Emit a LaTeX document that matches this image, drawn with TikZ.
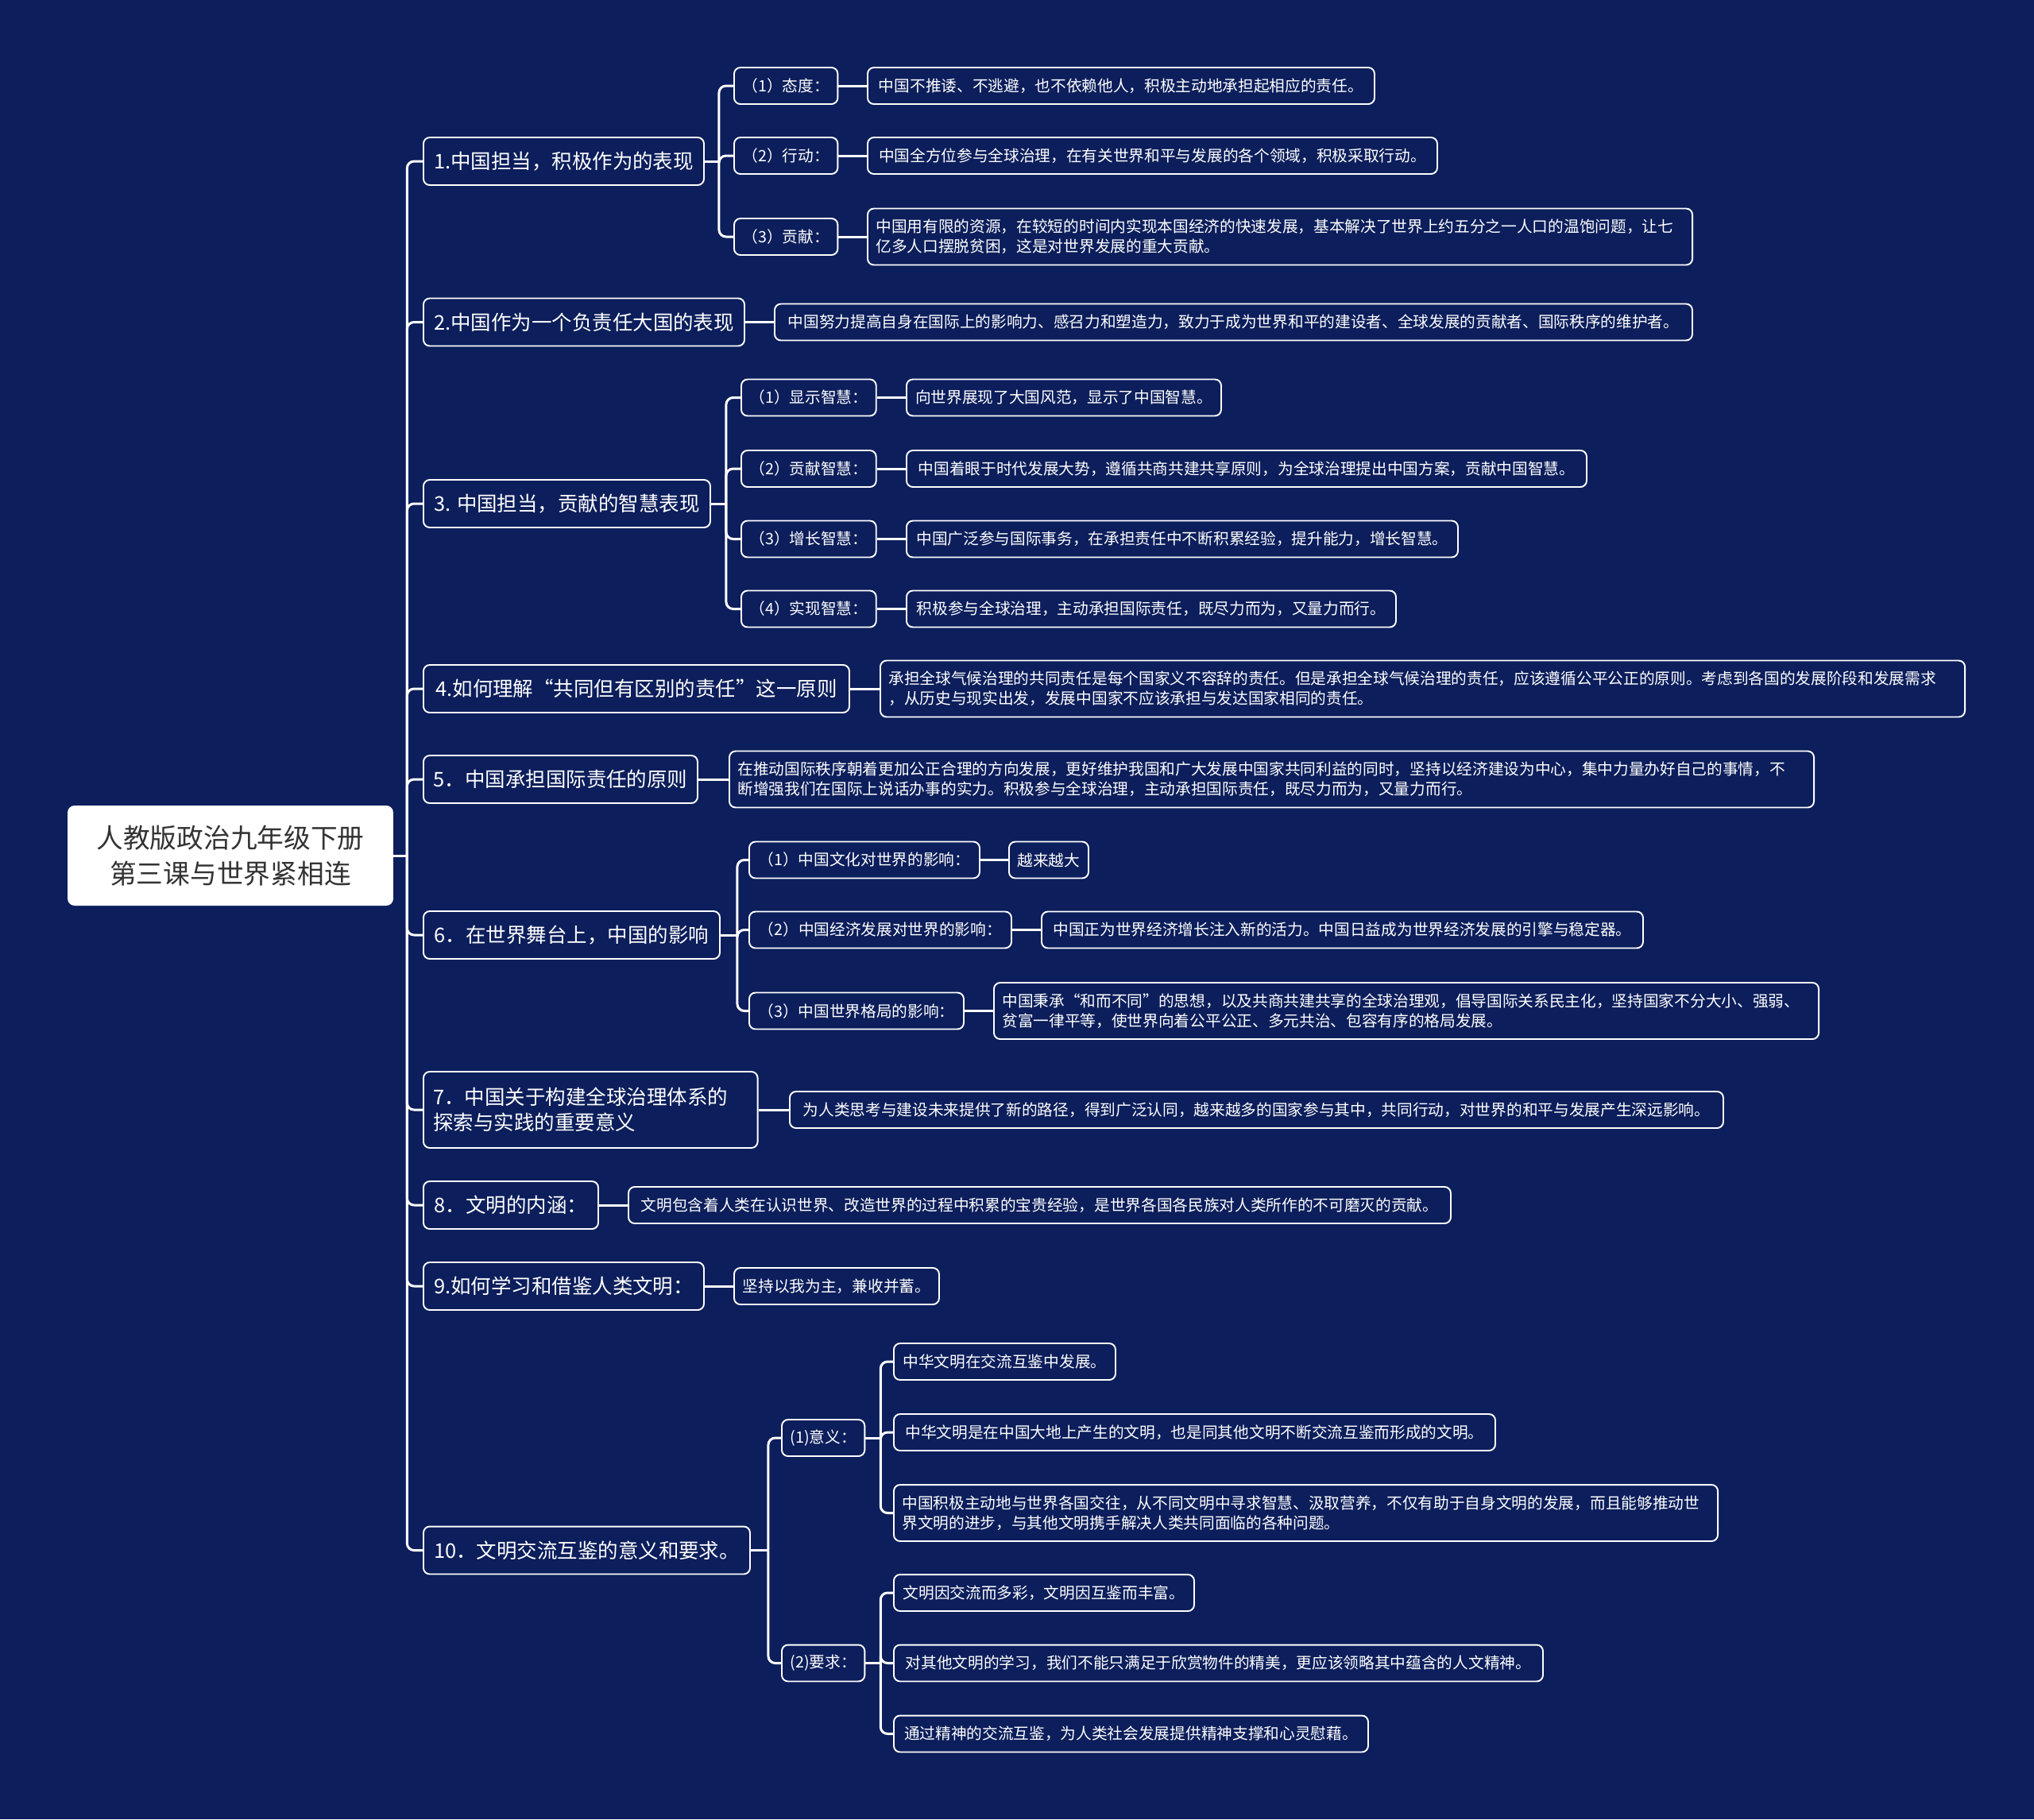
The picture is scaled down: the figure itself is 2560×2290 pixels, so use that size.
\documentclass[tikz,border=0pt]{standalone}
\usepackage{fontspec}
\setmainfont{Noto Sans CJK SC}
\usetikzlibrary{calc}
\definecolor{bg}{HTML}{0C1E5B}
\definecolor{roottext}{HTML}{333333}
\tikzset{
  box/.style={draw=white, line width=1.1pt, rounded corners=4.5pt, fill=bg, text=white, anchor=west, align=left, inner ysep=0pt},
  lone/.style={box, font=\fontsize{14.5pt}{18.2pt}\selectfont, inner xsep=7pt, minimum height=1.2cm},
  ltwo/.style={box, font=\fontsize{11.2pt}{14.2pt}\selectfont, inner xsep=6pt, minimum height=0.92cm},
  tall/.style={minimum height=1.42cm},
  bw/.style={minimum width=#1*0.02cm},
  tw/.style={text width=#1*0.02cm},
  conn/.style={draw=white, line width=1.7pt, rounded corners=5pt},
}
\begin{document}
\begin{tikzpicture}[x=0.02cm,y=-0.02cm]
\fill[bg] (0,0) rectangle (2560,2290);
\useasboundingbox (0,0) rectangle (2560,2290);

% root
\node[fill=white, rounded corners=5pt, text=roottext, font=\fontsize{19.2pt}{25.6pt}\selectfont, align=center, minimum width=8.2cm, minimum height=2.52cm] (root) at (290,1077) {人教版政治九年级下册\\第三课与世界紧相连};

% level 1
\node[lone, bw=353] (n1) at (532,203) {1.中国担当，积极作为的表现};
\node[lone, bw=404] (n2) at (532,405.5) {2.中国作为一个负责任大国的表现};
\node[lone, bw=361] (n3) at (532,634) {3. 中国担当，贡献的智慧表现};
\node[lone, bw=536] (n4) at (532,867) {4.如何理解“共同但有区别的责任”这一原则};
\node[lone, bw=345] (n5) at (532,981) {5．中国承担国际责任的原则};
\node[lone, bw=373] (n6) at (532,1177) {6．在世界舞台上，中国的影响};
\node[lone, tw=396, minimum height=1.92cm] (n7) at (532,1397) {7．中国关于构建全球治理体系的\\探索与实践的重要意义};
\node[lone, bw=220] (n8) at (532,1517) {8．文明的内涵：};
\node[lone, bw=353] (n9) at (532,1619) {9.如何学习和借鉴人类文明：};
\node[lone, bw=411] (n10) at (532,1951.5) {10．文明交流互鉴的意义和要求。};

% section 1
\node[ltwo, bw=130] (n1a) at (923,108) {（1）态度：};
\node[ltwo, bw=130] (n1b) at (923,196) {（2）行动：};
\node[ltwo, bw=130] (n1c) at (923,298) {（3）贡献：};
\node[ltwo, bw=638] (n1at) at (1091,108) {中国不推诿、不逃避，也不依赖他人，积极主动地承担起相应的责任。};
\node[ltwo, bw=717] (n1bt) at (1091,196) {中国全方位参与全球治理，在有关世界和平与发展的各个领域，积极采取行动。};
\node[ltwo, tall, tw=1017] (n1ct) at (1091,298) {中国用有限的资源，在较短的时间内实现本国经济的快速发展，基本解决了世界上约五分之一人口的温饱问题，让七\\亿多人口摆脱贫困，这是对世界发展的重大贡献。};

% section 2
\node[ltwo, bw=1155] (n2t) at (974,405.5) {中国努力提高自身在国际上的影响力、感召力和塑造力，致力于成为世界和平的建设者、全球发展的贡献者、国际秩序的维护者。};

% section 3
\node[ltwo, bw=168] (n3a) at (932,500.5) {（1）显示智慧：};
\node[ltwo, bw=168] (n3b) at (932,590) {（2）贡献智慧：};
\node[ltwo, bw=168] (n3c) at (932,678.5) {（3）增长智慧：};
\node[ltwo, bw=168] (n3d) at (932,766.5) {（4）实现智慧：};
\node[ltwo, bw=396] (n3at) at (1140,500.5) {向世界展现了大国风范，显示了中国智慧。};
\node[ltwo, bw=856] (n3bt) at (1140,590) {中国着眼于时代发展大势，遵循共商共建共享原则，为全球治理提出中国方案，贡献中国智慧。};
\node[ltwo, bw=694] (n3ct) at (1140,678.5) {中国广泛参与国际事务，在承担责任中不断积累经验，提升能力，增长智慧。};
\node[ltwo, bw=616] (n3dt) at (1140,766.5) {积极参与全球治理，主动承担国际责任，既尽力而为，又量力而行。};

% section 4, 5
\node[ltwo, tall, tw=1344] (n4t) at (1107,867) {承担全球气候治理的共同责任是每个国家义不容辞的责任。但是承担全球气候治理的责任，应该遵循公平公正的原则。考虑到各国的发展阶段和发展需求\\，从历史与现实出发，发展中国家不应该承担与发达国家相同的责任。};
\node[ltwo, tall, tw=1344] (n5t) at (917,981) {在推动国际秩序朝着更加公正合理的方向发展，更好维护我国和广大发展中国家共同利益的同时，坚持以经济建设为中心，集中力量办好自己的事情，不\\断增强我们在国际上说话办事的实力。积极参与全球治理，主动承担国际责任，既尽力而为，又量力而行。};

% section 6
\node[ltwo, bw=290] (n6a) at (942,1082.5) {（1）中国文化对世界的影响：};
\node[ltwo, bw=330] (n6b) at (942,1170.5) {（2）中国经济发展对世界的影响：};
\node[ltwo, bw=270] (n6c) at (942,1272.5) {（3）中国世界格局的影响：};
\node[ltwo, bw=100] (n6at) at (1269,1082.5) {越来越大};
\node[ltwo, bw=757] (n6bt) at (1310,1170.5) {中国正为世界经济增长注入新的活力。中国日益成为世界经济发展的引擎与稳定器。};
\node[ltwo, tall, tw=1017] (n6ct) at (1250,1272.5) {中国秉承“和而不同”的思想，以及共商共建共享的全球治理观，倡导国际关系民主化，坚持国家不分大小、强弱、\\贫富一律平等，使世界向着公平公正、多元共治、包容有序的格局发展。};

% sections 7, 8, 9
\node[ltwo, bw=1175] (n7t) at (993,1397) {为人类思考与建设未来提供了新的路径，得到广泛认同，越来越多的国家参与其中，共同行动，对世界的和平与发展产生深远影响。};
\node[ltwo, bw=1035] (n8t) at (790,1517) {文明包含着人类在认识世界、改造世界的过程中积累的宝贵经验，是世界各国各民族对人类所作的不可磨灭的贡献。};
\node[ltwo, bw=258] (n9t) at (923,1619) {坚持以我为主，兼收并蓄。};

% section 10
\node[ltwo, bw=104] (n10a) at (983,1810) {(1)意义：};
\node[ltwo, bw=104] (n10b) at (983,2093.5) {(2)要求：};
\node[ltwo, bw=279] (n10a1) at (1124,1714) {中华文明在交流互鉴中发展。};
\node[ltwo, bw=757] (n10a2) at (1124,1803) {中华文明是在中国大地上产生的文明，也是同其他文明不断交流互鉴而形成的文明。};
\node[ltwo, tall, tw=1016] (n10a3) at (1124,1904.5) {中国积极主动地与世界各国交往，从不同文明中寻求智慧、汲取营养，不仅有助于自身文明的发展，而且能够推动世\\界文明的进步，与其他文明携手解决人类共同面临的各种问题。};
\node[ltwo, bw=378] (n10b1) at (1124,2005) {文明因交流而多彩，文明因互鉴而丰富。};
\node[ltwo, bw=817] (n10b2) at (1124,2093.5) {对其他文明的学习，我们不能只满足于欣赏物件的精美，更应该领略其中蕴含的人文精神。};
\node[ltwo, bw=597] (n10b3) at (1124,2182.5) {通过精神的交流互鉴，为人类社会发展提供精神支撑和心灵慰藉。};

% connectors: trunk
\coordinate (t0) at ($(root.east)+(17,0)$);
\draw[conn] (root.east) -- (t0);
\foreach \n in {n1,n2,n3,n4,n5,n6,n7,n8,n9,n10} \draw[conn] (t0) |- (\n.west);

% section 1
\coordinate (b1) at ($(n1.east)+(18,0)$);
\draw[conn] (n1.east) -- (b1);
\foreach \c in {n1a,n1b,n1c} \draw[conn] (b1) |- (\c.west);
\draw[conn] (n1a.east) -- (n1at.west);
\draw[conn] (n1b.east) -- (n1bt.west);
\draw[conn] (n1c.east) -- (n1ct.west);

\draw[conn] (n2.east) -- (n2t.west);

% section 3
\coordinate (b3) at ($(n3.east)+(19,0)$);
\draw[conn] (n3.east) -- (b3);
\foreach \c in {n3a,n3b,n3c,n3d} \draw[conn] (b3) |- (\c.west);
\draw[conn] (n3a.east) -- (n3at.west);
\draw[conn] (n3b.east) -- (n3bt.west);
\draw[conn] (n3c.east) -- (n3ct.west);
\draw[conn] (n3d.east) -- (n3dt.west);

\draw[conn] (n4.east) -- (n4t.west);
\draw[conn] (n5.east) -- (n5t.west);

% section 6
\coordinate (b6) at ($(n6.east)+(21,0)$);
\draw[conn] (n6.east) -- (b6);
\foreach \c in {n6a,n6b,n6c} \draw[conn] (b6) |- (\c.west);
\draw[conn] (n6a.east) -- (n6at.west);
\draw[conn] (n6b.east) -- (n6bt.west);
\draw[conn] (n6c.east) -- (n6ct.west);

\draw[conn] (n7.east) -- (n7t.west);
\draw[conn] (n8.east) -- (n8t.west);
\draw[conn] (n9.east) -- (n9t.west);

% section 10
\coordinate (b10) at ($(n10.east)+(22,0)$);
\draw[conn] (n10.east) -- (b10);
\foreach \c in {n10a,n10b} \draw[conn] (b10) |- (\c.west);
\coordinate (b10a) at ($(n10a.east)+(19,0)$);
\draw[conn] (n10a.east) -- (b10a);
\foreach \c in {n10a1,n10a2,n10a3} \draw[conn] (b10a) |- (\c.west);
\coordinate (b10b) at ($(n10b.east)+(19,0)$);
\draw[conn] (n10b.east) -- (b10b);
\foreach \c in {n10b1,n10b2,n10b3} \draw[conn] (b10b) |- (\c.west);
\end{tikzpicture}
\end{document}
